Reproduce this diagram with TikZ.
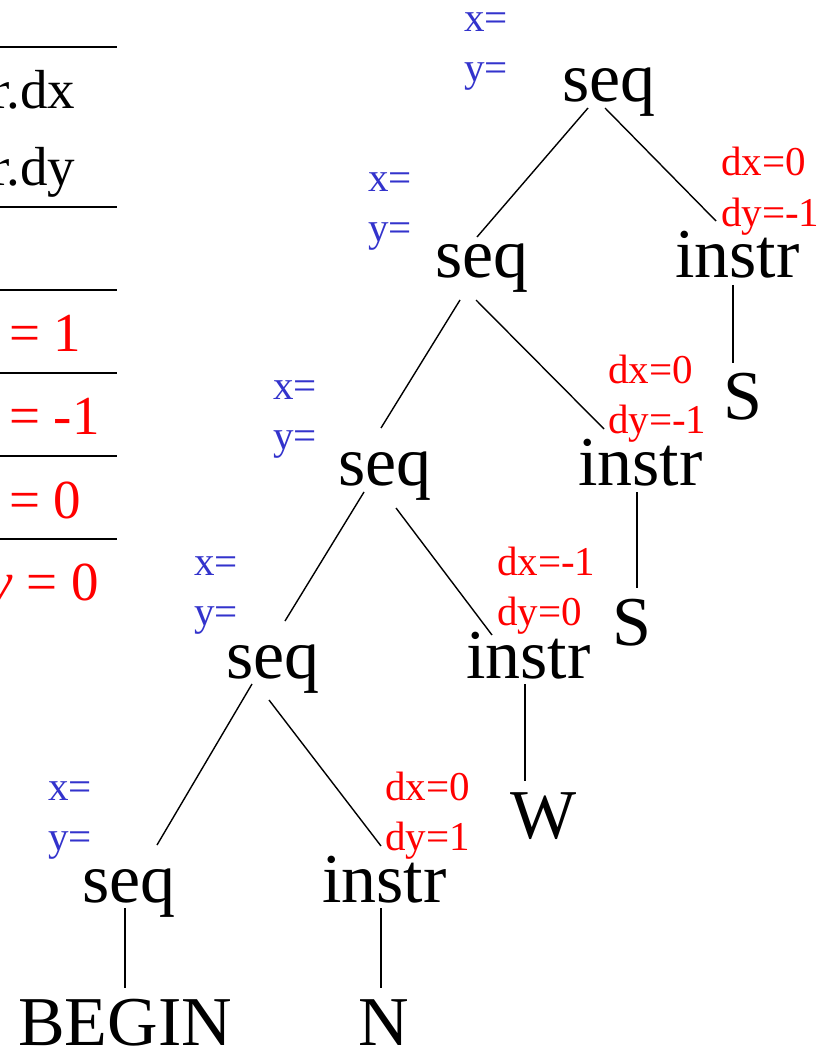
\documentclass[tikz,border=0pt]{standalone}
\usepackage{fontspec}
\setmainfont{Liberation Serif}
\usetikzlibrary{calc}
\definecolor{lblblue}{RGB}{51,51,204}
\definecolor{lblred}{RGB}{255,0,0}
\tikzset{
  big/.style={anchor=base west, inner sep=0pt, font=\fontsize{70}{84}\selectfont},
  blue lbl/.style={anchor=base west, inner sep=0pt, text=lblblue, font=\fontsize{41}{49}\selectfont},
  red lbl/.style={anchor=base west, inner sep=0pt, text=lblred, font=\fontsize{41}{49}\selectfont},
  tabtext/.style={anchor=base west, inner sep=0pt, font=\fontsize{55}{66}\selectfont},
  tabred/.style={tabtext, text=lblred},
  rule/.style={line width=2.5pt},
  edge/.style={line width=1.4pt}
}
\begin{document}
\begin{tikzpicture}[x=1pt,y=-1pt]
\useasboundingbox (0,0) rectangle (824,1048);
% table (partially cut at the left)
\coordinate (t0a) at (0,47);   \coordinate (t0b) at (117,47);
\coordinate (t1a) at (0,207);  \coordinate (t1b) at (117,207);
\coordinate (t2a) at (0,290);  \coordinate (t2b) at (117,290);
\coordinate (t3a) at (0,373);  \coordinate (t3b) at (117,373);
\coordinate (t4a) at (0,456);  \coordinate (t4b) at (117,456);
\coordinate (t5a) at (0,539);  \coordinate (t5b) at (117,539);
\foreach \i in {0,...,5} \draw[rule] (t\i a) -- (t\i b);
\node[tabtext] (rdx) at (-9,109) {r.dx};
\node[tabtext] (rdy) at (-9,186) {r.dy};
\node[tabred] (eq1) at (9,351) {= 1};
\node[tabred] (eq2) at (9,434) {= -1};
\node[tabred] (eq3) at (9,518) {= 0};
\node[tabred] (eq4) at (-12,600) {\textit{y} = 0};
% tree nodes
\node[big] (seqA) at (562,102) {seq};
\node[big] (seqB) at (435,278) {seq};
\node[big] (insA) at (675,278) {instr};
\node[big] (SA) at (723,419) {S};
\node[big] (seqC) at (338,485) {seq};
\node[big] (insB) at (578,485) {instr};
\node[big] (SB) at (612,645) {S};
\node[big] (seqD) at (226,678) {seq};
\node[big] (insC) at (466,678) {instr};
\node[big] (WW) at (510,838) {W};
\node[big] (seqE) at (82,902) {seq};
\node[big] (insD) at (322,902) {instr};
\node[big] (beg) at (18,1045) {BEGIN};
\node[big] (NN) at (358,1045) {N};
% blue labels
\node[blue lbl] (xA) at (464,32) {x=};
\node[blue lbl] (yA) at (464,82) {y=};
\node[blue lbl] (xB) at (368,192) {x=};
\node[blue lbl] (yB) at (368,242) {y=};
\node[blue lbl] (xC) at (273,399) {x=};
\node[blue lbl] (yC) at (273,449) {y=};
\node[blue lbl] (xD) at (194,575) {x=};
\node[blue lbl] (yD) at (194,625) {y=};
\node[blue lbl] (xE) at (48,800) {x=};
\node[blue lbl] (yE) at (48,850) {y=};
% red labels
\node[red lbl] (dxA) at (721,176) {dx=0};
\node[red lbl] (dyA) at (721,227) {dy=-1};
\node[red lbl] (dxB) at (608,383) {dx=0};
\node[red lbl] (dyB) at (608,433) {dy=-1};
\node[red lbl] (dxC) at (497,575) {dx=-1};
\node[red lbl] (dyC) at (497,625) {dy=0};
\node[red lbl] (dxD) at (385,800) {dx=0};
\node[red lbl] (dyD) at (385,850) {dy=1};
% edges
\draw[edge] ($(seqA.base west)+(26,6)$) -- ($(seqB.base west)+(42,-41)$);
\draw[edge] ($(seqA.base west)+(43,6)$) -- ($(insA.base west)+(41,-57)$);
\draw[edge] ($(insA.base west)+(58,7)$) -- ($(SA.base west)+(10,-56)$);
\draw[edge] ($(seqB.base west)+(25,22)$) -- ($(seqC.base west)+(43,-57)$);
\draw[edge] ($(seqB.base west)+(41,22)$) -- ($(insB.base west)+(26,-56)$);
\draw[edge] ($(insB.base west)+(59,7)$) -- ($(SB.base west)+(25,-57)$);
\draw[edge] ($(seqC.base west)+(26,7)$) -- ($(seqD.base west)+(59,-57)$);
\draw[edge] ($(seqC.base west)+(58,23)$) -- ($(insC.base west)+(26,-43)$);
\draw[edge] ($(insC.base west)+(59,6)$) -- ($(WW.base west)+(15,-57)$);
\draw[edge] ($(seqD.base west)+(26,6)$) -- ($(seqE.base west)+(75,-57)$);
\draw[edge] ($(seqD.base west)+(43,22)$) -- ($(insD.base west)+(59,-56)$);
\draw[edge] ($(seqE.base west)+(43,6)$) -- ($(beg.base west)+(107,-57)$);
\draw[edge] ($(insD.base west)+(59,6)$) -- ($(NN.base west)+(23,-57)$);
\end{tikzpicture}
\end{document}
